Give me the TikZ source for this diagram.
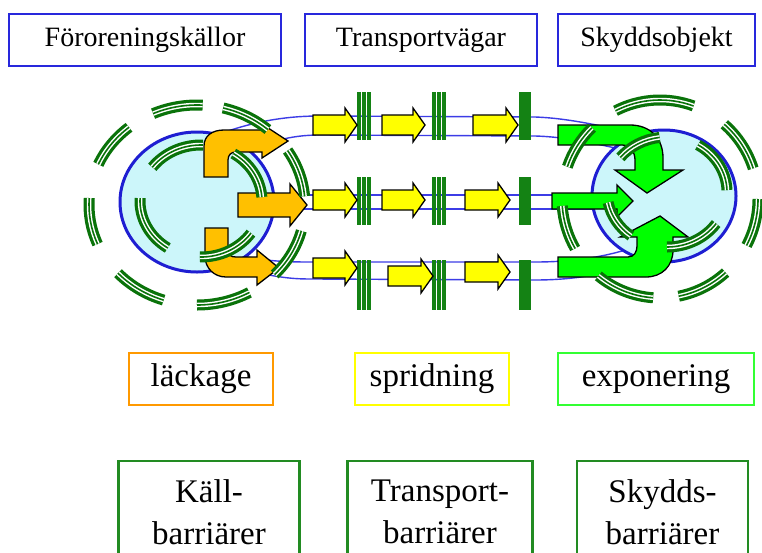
\documentclass[tikz,border=0pt]{standalone}
\usepackage{fontspec}
\setmainfont{Liberation Serif}
\definecolor{topblue}{RGB}{40,40,220}
\definecolor{ellblue}{RGB}{30,30,210}
\definecolor{linblue}{RGB}{60,60,230}
\definecolor{cyanfill}{RGB}{204,246,250}
\definecolor{dgreen}{RGB}{10,115,10}
\definecolor{bargreen}{RGB}{20,130,20}
\definecolor{yel}{RGB}{255,255,0}
\definecolor{org}{RGB}{255,192,0}
\definecolor{grn}{RGB}{0,255,0}
\definecolor{lborange}{RGB}{255,153,0}
\definecolor{lbyellow}{RGB}{255,255,0}
\definecolor{lbgreen}{RGB}{51,255,51}
\definecolor{bgreen}{RGB}{34,139,34}
\newcommand{\HArr}[7]{\filldraw[#1] (#2,{#4-#5}) -- ({#3-#6},{#4-#5}) -- ({#3-#6},{#4-#5-#7}) -- (#3,#4) -- ({#3-#6},{#4+#5+#7}) -- ({#3-#6},{#4+#5}) -- (#2,{#4+#5}) -- cycle;}
\newcommand{\Barrier}[4]{\foreach \d in {0,1,2} {\draw[barline] ({#1+\d*#4},#2) -- ({#1+\d*#4},#3);}}
\newcommand{\ringset}[6]{\foreach \s/\e in {#6} {\draw[#1] (#2,#3) ++(\s:#4 and #5) arc[start angle=\s, end angle=\e, x radius=#4, y radius=#5];}}
\newcommand{\allrings}[1]{%
 \ringset{#1}{197}{205}{108}{100}{15/44, 61/90, 108/137, 157/184, 204/231, 246/273, 284/311, 327/355}%
 \ringset{#1}{201}{201}{61}{56}{35/91, 123/183, 217/272, 302/356}%
 \ringset{#1}{660}{199}{98}{99}{0/28, 48/79, 94/129, 150/176, 199/226, 243/290, 311/342}%
 \ringset{#1}{667}{192}{60}{55}{35/90, 127/169, 219/263, 301/358}}
\begin{document}
\begin{tikzpicture}[x=1pt,y=-1pt,
  topbox/.style={draw=topblue, line width=1.8pt, minimum height=52pt, inner sep=0pt, font=\fontsize{28}{32}\selectfont},
  labbox/.style={draw=#1, line width=2pt, minimum height=52pt, inner sep=0pt, font=\fontsize{33}{38}\selectfont},
  barbox/.style={draw=bgreen, line width=2.2pt, minimum height=102pt, inner sep=0pt, align=center, font=\fontsize{33}{42}\selectfont},
  chan/.style={draw=linblue, line width=1.4pt},
  ellstyle/.style={draw=ellblue, fill=cyanfill, line width=3pt},
  yarrow/.style={fill=yel, draw=black, line width=1.3pt, line join=miter},
  oarrow/.style={fill=org, draw=black, line width=1.3pt},
  garrow/.style={fill=grn, draw=black, line width=1.3pt},
  barline/.style={draw=bargreen, line width=3.4pt},
  ringA/.style={draw=dgreen, line width=11pt},
  ringB/.style={draw=white, line width=4.5pt},
  ringC/.style={draw=dgreen, line width=1.6pt}]
\useasboundingbox (0,0) rectangle (762,552);
\clip (0,0) rectangle (762,552);
\fill[white] (0,0) rectangle (762,552);

% top boxes
\node[topbox, minimum width=272pt] (src) at (145,40) {Föroreningskällor};
\node[topbox, minimum width=232pt] (path) at (421,40) {Transportvägar};
\node[topbox, minimum width=197pt] (obj) at (656.5,40) {Skyddsobjekt};

% channel lines
\draw[chan] (225,132) .. controls (260,120) and (290,116) .. (320,116) -- (535,117) .. controls (565,118) and (600,125) .. (640,135);
\draw[chan] (255,148) .. controls (280,138) and (300,135) .. (320,135) -- (535,136) .. controls (570,137) and (600,145) .. (625,150);
\draw[chan] (265,195) -- (610,195);
\draw[chan] (265,209) -- (610,209);
\draw[chan] (228,252) .. controls (260,262) and (290,262) .. (313,262) -- (535,262) .. controls (580,262) and (610,255) .. (632,248);
\draw[chan] (255,272) .. controls (285,279) and (300,279) .. (313,279) -- (535,280) .. controls (580,280) and (615,272) .. (640,262);

% ellipses
\path[ellstyle] (197,202) ellipse[x radius=77, y radius=70];
\path[ellstyle] (664,196) ellipse[x radius=72, y radius=66];

% barriers
\Barrier{359}{92}{140}{5}
\Barrier{434}{92}{140}{5}
\Barrier{521}{92}{140}{4}
\Barrier{359}{177}{225}{5}
\Barrier{434}{177}{225}{5}
\Barrier{521}{177}{225}{4}
\Barrier{359}{260}{310}{5}
\Barrier{434}{260}{310}{5}
\Barrier{521}{260}{310}{4}

% yellow arrows
\HArr{yarrow}{313}{357}{125}{10}{12}{7}
\HArr{yarrow}{382}{425}{125}{10}{12}{7}
\HArr{yarrow}{473}{518}{125}{10}{12}{7}
\HArr{yarrow}{313}{357}{200}{10}{12}{7}
\HArr{yarrow}{382}{425}{200}{10}{12}{7}
\HArr{yarrow}{465}{510}{200}{10}{12}{7}
\HArr{yarrow}{313}{357}{268}{10}{12}{7}
\HArr{yarrow}{388}{433}{276}{10}{12}{7}
\HArr{yarrow}{465}{510}{272}{10}{12}{7}

% orange arrows
\filldraw[oarrow] (204,177) -- (204,146) .. controls (204,136) and (212,130) .. (224,130) -- (262,130) -- (262,124) -- (288,141) -- (262,158) -- (262,152) -- (236,152) .. controls (231,152) and (228,155) .. (228,160) -- (228,177) -- cycle;
\HArr{oarrow}{238}{307}{205}{12}{17}{9}
\filldraw[oarrow] (205,228) -- (228,228) -- (228,250) .. controls (228,255) and (231,257) .. (236,257) -- (257,257) -- (257,250) -- (279,268) -- (257,285) -- (257,277) -- (226,277) .. controls (214,277) and (205,268) .. (205,256) -- cycle;

% green arrows
\filldraw[garrow] (558,125) -- (630,125) .. controls (650,125) and (663,138) .. (663,158) -- (663,170) -- (683,170) -- (647,193) -- (615,170) -- (635,170) -- (635,160) .. controls (635,152) and (630,145) .. (622,145) -- (558,145) -- cycle;
\HArr{garrow}{552}{633}{201}{8}{16}{8}
\filldraw[garrow] (558,257) -- (628,257) .. controls (634,257) and (637,252) .. (637,246) -- (637,237) -- (620,237) -- (660,216) -- (688,237) -- (673,237) -- (673,250) .. controls (673,266) and (662,277) .. (646,277) -- (558,277) -- cycle;

% dashed barrier rings
\allrings{ringA}
\allrings{ringB}
\allrings{ringC}

% label boxes
\node[labbox=lborange, minimum width=144pt] (leak) at (201,379) {läckage};
\node[labbox=lbyellow, minimum width=154pt] (spread) at (432,379) {spridning};
\node[labbox=lbgreen, minimum width=196pt] (expo) at (656,379) {exponering};

% barrier boxes
\node[barbox, minimum width=181pt] (kb) at (209,512) {Käll-\\barriärer};
\node[barbox, minimum width=185pt] (tb) at (440,512) {Transport-\\barriärer};
\node[barbox, minimum width=171pt] (sb) at (662.5,512) {Skydds-\\barriärer};
\end{tikzpicture}
\end{document}
